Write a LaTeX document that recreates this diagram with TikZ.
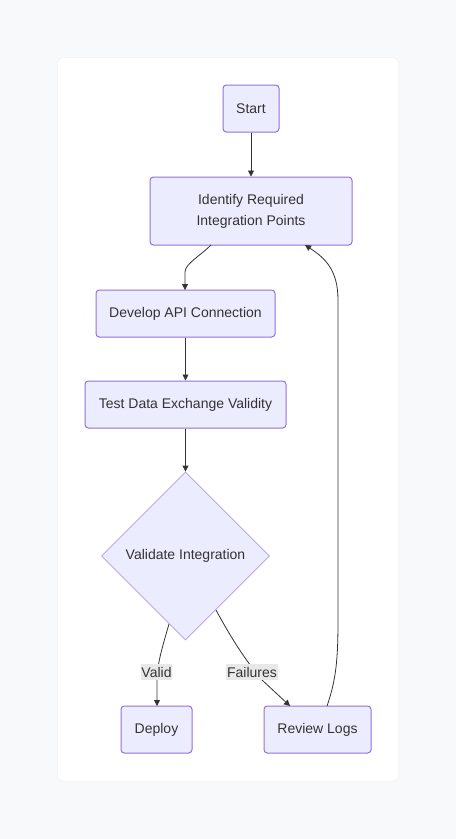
\documentclass[tikz,border=0pt]{standalone}
\usepackage{fontspec}
\setmainfont{Liberation Sans}
\usetikzlibrary{shapes.geometric,arrows.meta}
\definecolor{nodefill}{HTML}{ECECFF}
\definecolor{nodeline}{HTML}{9370DB}
\definecolor{txt}{HTML}{333333}
\definecolor{pagebg}{HTML}{F8F9FA}
\definecolor{lblbg}{HTML}{E8E8E8}
\tikzset{
  box/.style={draw=nodeline, fill=nodefill, line width=0.75pt, rounded corners=2.5pt, text=txt, font=\fontsize{10.5}{15.75}\selectfont, align=center, inner sep=0pt},
  dia/.style={draw=nodeline!70, fill=nodefill, line width=0.6pt, diamond, aspect=1, text=txt, font=\fontsize{10.5}{13}\selectfont, inner sep=0pt, minimum width=126pt, minimum height=126pt},
  conn/.style={draw=txt, line width=0.6pt, -{Triangle[length=4.5pt,width=4.5pt]}},
  lbl/.style={fill=lblbg, text=txt, font=\fontsize{10.5}{13}\selectfont, inner xsep=0.5pt, inner ysep=2pt}
}
\begin{document}
\begin{tikzpicture}[x=0.75pt,y=-0.75pt]
\useasboundingbox (0,0) rectangle (456,839);
\fill[pagebg] (0,0) rectangle (456,839);
\fill[black!4, rounded corners=4pt] (57,57) rectangle (399,782);
\fill[white, rounded corners=4pt] (58,58) rectangle (398,781);

\node[box, minimum width=42pt, minimum height=35.25pt] (start) at (251,108.5) {Start};
\node[box, minimum width=151.5pt, minimum height=51pt] (ident) at (251,211) {Identify Required\\Integration Points};
\node[box, minimum width=134.25pt, minimum height=35.25pt] (dev) at (185.5,313.5) {Develop API Connection};
\node[box, minimum width=150.75pt, minimum height=35.25pt] (test) at (185.5,404.5) {Test Data Exchange Validity};
\node[dia] (val) at (185.5,556) {};
\node[text=txt, font=\fontsize{10.5}{13}\selectfont] (valtext) at (185.5,556) {Validate Integration};
\node[box, minimum width=53.25pt, minimum height=35.25pt] (deploy) at (156.5,729.5) {Deploy};
\node[box, minimum width=80.25pt, minimum height=35.25pt] (review) at (317.5,729.5) {Review Logs};

\coordinate (iout) at (211,245);
\coordinate (din) at (185,290);
\coordinate (vout1) at (169,624);
\coordinate (vout2) at (216,610);
\coordinate (dpin) at (157,706);
\coordinate (rvin) at (290,706);
\coordinate (rout) at (327,706);
\coordinate (iin) at (305,245);

\draw[conn] (start.south) -- (ident.north);
\draw[conn] (iout) .. controls (200,256) and (185,264) .. (185,272) -- (din);
\draw[conn] (dev.south) -- (test.north);
\draw[conn] (test.south) -- (val.north);
\draw[conn] (vout1) .. controls (162,648) and (157,665) .. (157,680) -- (dpin);
\draw[conn] (vout2) .. controls (230,636) and (245,660) .. (262,680) -- (rvin);
\draw[conn] (rout) .. controls (336,680) and (338,660) .. (338,620) -- (338,300) .. controls (338,270) and (325,258) .. (iin);

\node[lbl] (lvalid) at (156.5,672) {Valid};
\node[lbl] (lfail) at (252,672) {Failures};
\end{tikzpicture}
\end{document}
